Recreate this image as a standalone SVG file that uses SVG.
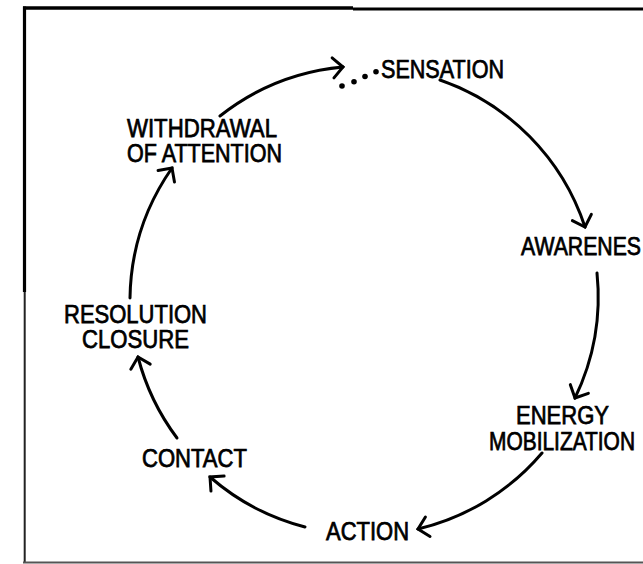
<svg xmlns="http://www.w3.org/2000/svg" width="643" height="564" viewBox="0 0 643 564">
  <style>
    .lbl { font-family: "Liberation Sans", Arial, sans-serif; font-size: 25px; fill: #000; stroke: #000; stroke-width: 0.75; }
    .conn { fill: none; stroke: #000; stroke-width: 3; stroke-linecap: round; marker-end: url(#ah); }
  </style>
  <defs>
    <marker id="ah" markerUnits="userSpaceOnUse" viewBox="-14 -14 17 28" refX="0" refY="0" markerWidth="17" markerHeight="28" orient="auto">
      <path d="M-10,-10 L0,0 L-10,10" fill="none" stroke="#000" stroke-width="3" stroke-linecap="round" stroke-linejoin="miter"/>
    </marker>
  </defs>
  <rect width="643" height="564" fill="#fff"/>
  <g id="frame">
    <line x1="23" y1="8" x2="353" y2="8" stroke="#000" stroke-width="3.5"/>
    <line x1="353" y1="9" x2="643" y2="9" stroke="#000" stroke-width="3"/>
    <line x1="24.5" y1="6.5" x2="24.5" y2="292" stroke="#000" stroke-width="3.2"/>
    <line x1="24.7" y1="292" x2="24.7" y2="563" stroke="#222" stroke-width="2"/>
    <line x1="23" y1="562.5" x2="643" y2="562.5" stroke="#555" stroke-width="2"/>
  </g>
  <g id="connectors">
    <path class="conn" d="M220,116 A233,233 0 0 1 343,67"/>
    <path class="conn" d="M440,80 A233,233 0 0 1 585,227"/>
    <path class="conn" d="M597,273 A233,233 0 0 1 575,398"/>
    <path class="conn" d="M542,453 A233,233 0 0 1 418,529"/>
    <path class="conn" d="M305,527 A233,233 0 0 1 210,477"/>
    <path class="conn" d="M177,438 A233,233 0 0 1 138,357"/>
    <path class="conn" d="M130,298 A233,233 0 0 1 172,168"/>
  </g>
  <g id="sensation">
    <circle cx="342" cy="86" r="2.8"/>
    <circle cx="354" cy="81.7" r="2.8"/>
    <circle cx="365" cy="76.5" r="2.8"/>
    <circle cx="376" cy="71.7" r="2.8"/>
    <text class="lbl" x="381" y="78" textLength="123" lengthAdjust="spacingAndGlyphs">SENSATION</text>
  </g>
  <g id="awareness">
    <text class="lbl" x="521" y="255" textLength="120" lengthAdjust="spacingAndGlyphs">AWARENES</text>
  </g>
  <g id="energy-mobilization">
    <text class="lbl" x="516" y="424" textLength="93" lengthAdjust="spacingAndGlyphs">ENERGY</text>
    <text class="lbl" x="489" y="450" textLength="146" lengthAdjust="spacingAndGlyphs">MOBILIZATION</text>
  </g>
  <g id="action">
    <text class="lbl" x="326" y="540" textLength="83" lengthAdjust="spacingAndGlyphs">ACTION</text>
  </g>
  <g id="contact">
    <text class="lbl" x="142" y="467" textLength="105" lengthAdjust="spacingAndGlyphs">CONTACT</text>
  </g>
  <g id="resolution-closure">
    <text class="lbl" x="64" y="323" textLength="143" lengthAdjust="spacingAndGlyphs">RESOLUTION</text>
    <text class="lbl" x="82" y="348" textLength="107" lengthAdjust="spacingAndGlyphs">CLOSURE</text>
  </g>
  <g id="withdrawal">
    <text class="lbl" x="127" y="137" textLength="150" lengthAdjust="spacingAndGlyphs">WITHDRAWAL</text>
    <text class="lbl" x="127" y="162" textLength="155" lengthAdjust="spacingAndGlyphs">OF ATTENTION</text>
  </g>
</svg>
